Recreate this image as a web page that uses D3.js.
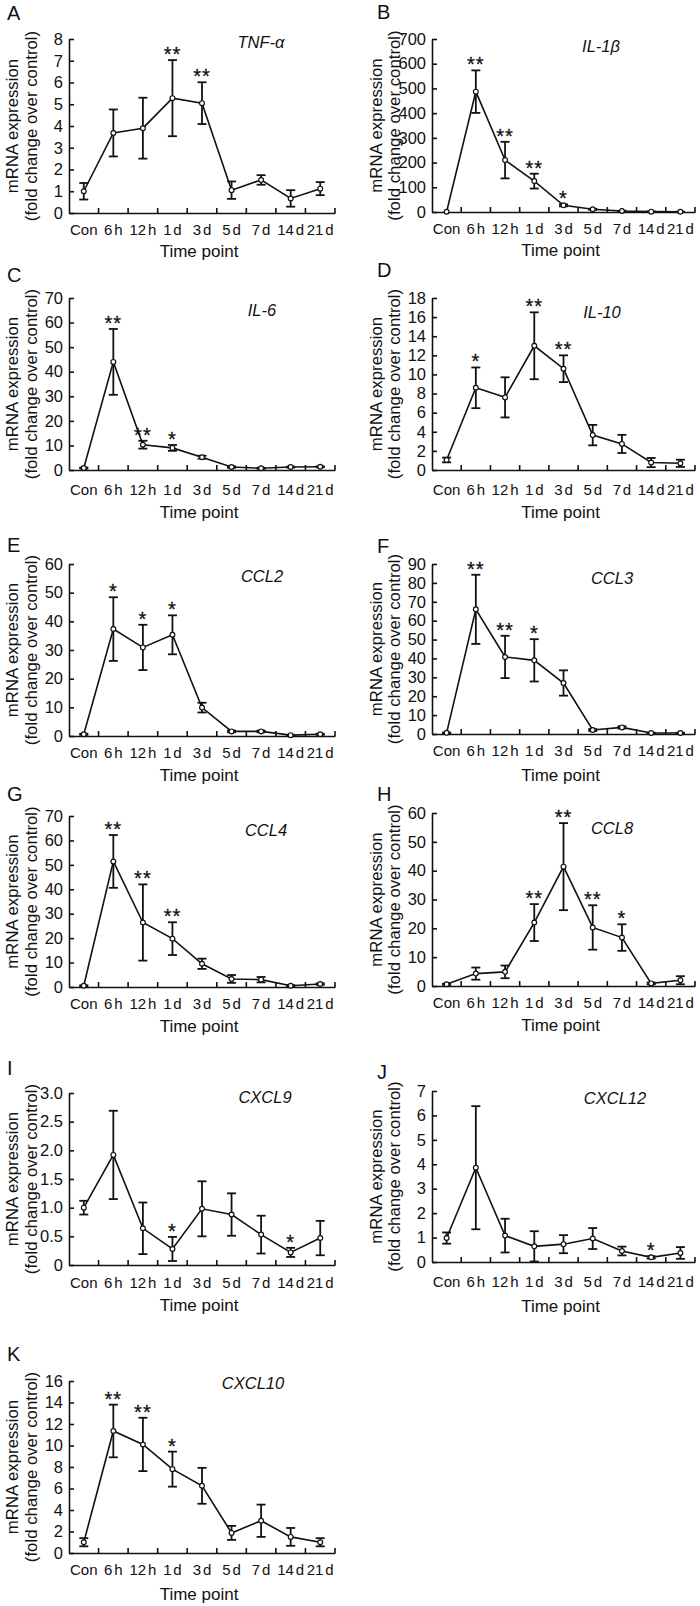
<!DOCTYPE html>
<html>
<head>
<meta charset="utf-8">
<script src="https://cdn.jsdelivr.net/npm/d3@7/dist/d3.min.js"></script>
<style>
  body { margin: 0; background: #fff; }
  svg { display: block; }
  text { font-family: "Liberation Sans", Arial, sans-serif; fill: #111; }
</style>
</head>
<body>
<svg id="fig" width="700" height="1606"></svg>
<script>
// categories
var timePoints = ["Con", "6 h", "12 h", "1 d", "3 d", "5 d", "7 d", "14 d", "21 d"];
var genes = ["TNF-α", "IL-1β", "IL-6", "IL-10", "CCL2", "CCL3", "CCL4", "CCL8", "CXCL9", "CXCL12", "CXCL10"];
var letters = ["A", "B", "C", "D", "E", "F", "G", "H", "I", "J", "K"];

// values (mean, error bar, significance)
var tnfMean = [1.0, 3.68, 3.9, 5.28, 5.05, 1.05, 1.52, 0.67, 1.12];
var tnfErr = [0.38, 1.08, 1.4, 1.75, 0.96, 0.4, 0.22, 0.38, 0.3];
var tnfStars = ["", "", "", "**", "**", "", "", "", ""];
var tnfTicks = [0, 1, 2, 3, 4, 5, 6, 7, 8];

var il1bMean = [1, 487, 210, 125, 27, 11, 4, 1.5, 1];
var il1bErr = [0, 86, 74, 30, 4, 2, 1, 0.5, 0.5];
var il1bStars = ["", "**", "**", "**", "*", "", "", "", ""];
var il1bTicks = [0, 100, 200, 300, 400, 500, 600, 700];

var il6Mean = [0.8, 44, 10.3, 9.0, 5.2, 1.2, 0.7, 1.2, 1.3];
var il6Err = [0.2, 13.4, 1.6, 1.2, 0.6, 0.3, 0.2, 0.2, 0.2];
var il6Stars = ["", "**", "**", "*", "", "", "", "", ""];
var il6Ticks = [0, 10, 20, 30, 40, 50, 60, 70];

var il10Mean = [1.05, 8.6, 7.6, 13.0, 10.6, 3.65, 2.73, 0.78, 0.7];
var il10Err = [0.25, 2.13, 2.1, 3.5, 1.4, 1.07, 0.95, 0.48, 0.38];
var il10Stars = ["", "*", "", "**", "**", "", "", "", ""];
var il10Ticks = [0, 2, 4, 6, 8, 10, 12, 14, 16, 18];

var ccl2Mean = [0.6, 37.3, 30.9, 35.3, 9.9, 1.6, 1.6, 0.3, 0.6];
var ccl2Err = [0.2, 11.1, 7.9, 6.8, 1.7, 0.3, 0.3, 0.1, 0.2];
var ccl2Stars = ["", "*", "*", "*", "", "", "", "", ""];
var ccl2Ticks = [0, 10, 20, 30, 40, 50, 60];

var ccl3Mean = [0.6, 66, 40.8, 39, 27, 2.1, 3.5, 0.5, 0.5];
var ccl3Err = [0.2, 18.3, 11.2, 11.2, 6.7, 0.5, 0.6, 0.2, 0.2];
var ccl3Stars = ["", "**", "**", "*", "", "", "", "", ""];
var ccl3Ticks = [0, 10, 20, 30, 40, 50, 60, 70, 80, 90];

var ccl4Mean = [0.5, 51.4, 26.4, 19.8, 9.5, 3.3, 3.0, 0.5, 1.2];
var ccl4Err = [0.2, 10.8, 15.6, 6.7, 2.1, 1.6, 1.1, 0.3, 0.3];
var ccl4Stars = ["", "**", "**", "**", "", "", "", "", ""];
var ccl4Ticks = [0, 10, 20, 30, 40, 50, 60, 70];

var ccl8Mean = [0.6, 4.3, 4.9, 22.0, 41.4, 20.3, 16.8, 0.9, 2.0];
var ccl8Err = [0.2, 2.1, 2.2, 6.4, 15.1, 7.7, 4.6, 0.3, 1.4];
var ccl8Stars = ["", "", "", "**", "**", "**", "*", "", ""];
var ccl8Ticks = [0, 10, 20, 30, 40, 50, 60];

var cxcl9Mean = [1.0, 1.92, 0.64, 0.28, 0.98, 0.88, 0.53, 0.22, 0.47];
var cxcl9Err = [0.12, 0.77, 0.45, 0.21, 0.48, 0.37, 0.33, 0.08, 0.3];
var cxcl9Stars = ["", "", "", "*", "", "", "", "*", ""];
var cxcl9Ticks = [0, 0.5, 1.0, 1.5, 2.0, 2.5, 3.0];

var cxcl12Mean = [0.98, 3.86, 1.08, 0.64, 0.73, 0.96, 0.45, 0.19, 0.37];
var cxcl12Err = [0.23, 2.52, 0.69, 0.62, 0.37, 0.43, 0.18, 0.05, 0.24];
var cxcl12Stars = ["", "", "", "", "", "", "", "*", ""];
var cxcl12Ticks = [0, 1, 2, 3, 4, 5, 6, 7];

var cxcl10Mean = [1.0, 11.35, 10.1, 7.8, 6.25, 1.87, 3.0, 1.5, 1.0];
var cxcl10Err = [0.38, 2.45, 2.48, 1.63, 1.67, 0.65, 1.5, 0.83, 0.38];
var cxcl10Stars = ["", "**", "**", "*", "", "", "", "", ""];
var cxcl10Ticks = [0, 2, 4, 6, 8, 10, 12, 14, 16];

var series = [
  [tnfMean, tnfErr, tnfStars, tnfTicks],
  [il1bMean, il1bErr, il1bStars, il1bTicks],
  [il6Mean, il6Err, il6Stars, il6Ticks],
  [il10Mean, il10Err, il10Stars, il10Ticks],
  [ccl2Mean, ccl2Err, ccl2Stars, ccl2Ticks],
  [ccl3Mean, ccl3Err, ccl3Stars, ccl3Ticks],
  [ccl4Mean, ccl4Err, ccl4Stars, ccl4Ticks],
  [ccl8Mean, ccl8Err, ccl8Stars, ccl8Ticks],
  [cxcl9Mean, cxcl9Err, cxcl9Stars, cxcl9Ticks],
  [cxcl12Mean, cxcl12Err, cxcl12Stars, cxcl12Ticks],
  [cxcl10Mean, cxcl10Err, cxcl10Stars, cxcl10Ticks]
];

// page layout (pixels)
var colX = [[69, 335], [432, 695]];
var titleX = [[12, 31], [376, 394]];
var letterX = [7, 377];
var layout = [
  {col: 0, top: 39,   zero: 213,  letterY: 20,   gx: 261, gy: 42,   labDy: 16, tpDy: 38},
  {col: 1, top: 39,   zero: 212,  letterY: 19,   gx: 601, gy: 46,   labDy: 16, tpDy: 38},
  {col: 0, top: 298,  zero: 470,  letterY: 282,  gx: 262, gy: 310,  labDy: 19, tpDy: 42},
  {col: 1, top: 298,  zero: 470,  letterY: 277,  gx: 602, gy: 312,  labDy: 19, tpDy: 42},
  {col: 0, top: 564,  zero: 736,  letterY: 552,  gx: 262, gy: 576,  labDy: 16, tpDy: 39},
  {col: 1, top: 564,  zero: 734,  letterY: 553,  gx: 612, gy: 578,  labDy: 16, tpDy: 41},
  {col: 0, top: 816,  zero: 987,  letterY: 801,  gx: 266, gy: 830,  labDy: 16, tpDy: 39},
  {col: 1, top: 813,  zero: 986,  letterY: 801,  gx: 612, gy: 828,  labDy: 16, tpDy: 39},
  {col: 0, top: 1093, zero: 1265, letterY: 1075, gx: 265, gy: 1097, labDy: 17, tpDy: 40},
  {col: 1, top: 1091, zero: 1262, letterY: 1079, gx: 615, gy: 1098, labDy: 19, tpDy: 44},
  {col: 0, top: 1381, zero: 1553, letterY: 1361, gx: 253, gy: 1383, labDy: 16, tpDy: 41}
];

var svg = d3.select("#fig");

layout.forEach(function(p, i) {
  var mean = series[i][0], err = series[i][1], stars = series[i][2], ticks = series[i][3];
  var x0 = colX[p.col][0], x1 = colX[p.col][1];
  var g = svg.append("g");

  var x = d3.scaleBand().domain(timePoints).range([x0, x1]);
  var y = d3.scaleLinear().domain([0, d3.max(ticks)]).range([p.zero, p.top]);
  var cx = function(k) { return x(timePoints[k]) + x.bandwidth() / 2; };
  var decimals = ticks.some(function(t) { return t % 1 !== 0; });

  // y axis, ticks inside
  var ya = g.append("g").attr("transform", "translate(" + x0 + ",0)")
    .call(d3.axisLeft(y).tickValues(ticks).tickSizeInner(-5).tickSizeOuter(0).tickPadding(6)
      .tickFormat(function(d) { return d === 0 ? "0" : (decimals ? d.toFixed(1) : d); }));
  ya.attr("font-size", null).attr("font-family", null);
  ya.selectAll("text").attr("font-size", 16.5).attr("fill", "#111");
  ya.selectAll("line, path").attr("stroke", "#111").attr("stroke-width", 1.6);

  // x axis line + boundary ticks pointing up
  var xa = g.append("g").attr("transform", "translate(0," + p.zero + ")")
    .call(d3.axisBottom(x).tickSize(0).tickPadding(0));
  xa.attr("font-size", null).attr("font-family", null);
  xa.select("path").attr("stroke", "#111").attr("stroke-width", 1.6);
  xa.selectAll("text").attr("font-size", 15).attr("fill", "#111")
    .attr("word-spacing", "-2.3px")
    .attr("dy", null).attr("y", p.labDy + 5.5);
  xa.selectAll(".bound").data(timePoints).enter().append("line")
    .attr("x1", function(d) { return x(d) + x.bandwidth(); })
    .attr("x2", function(d) { return x(d) + x.bandwidth(); })
    .attr("y1", 0).attr("y2", -5)
    .attr("stroke", "#111").attr("stroke-width", 1.6);

  // x title
  g.append("text").attr("x", (x0 + x1) / 2 - 3).attr("y", p.zero + p.tpDy + 6)
    .attr("text-anchor", "middle").attr("font-size", 17).text("Time point");

  // y title, two lines
  var cy = (p.top + p.zero) / 2;
  ["mRNA expression", "(fold change over control)"].forEach(function(t, j) {
    g.append("text")
      .attr("transform", "translate(" + (titleX[p.col][j] + 6) + "," + cy + ") rotate(-90)")
      .attr("text-anchor", "middle").attr("font-size", 16.8).text(t);
  });

  // panel letter and gene name
  g.append("text").attr("x", letterX[p.col]).attr("y", p.letterY)
    .attr("font-size", 20).text(letters[i]);
  g.append("text").attr("x", p.gx).attr("y", p.gy + 6)
    .attr("text-anchor", "middle").attr("font-size", 16.5).attr("font-style", "italic")
    .text(genes[i]);

  // error bars
  var idx = d3.range(timePoints.length);
  var eb = g.append("g").attr("stroke", "#111").attr("stroke-width", 1.8).attr("fill", "none");
  idx.forEach(function(k) {
    if (err[k] <= 0) return;
    var hi = y(mean[k] + err[k]), lo = y(Math.max(0, mean[k] - err[k]));
    eb.append("line").attr("x1", cx(k)).attr("x2", cx(k)).attr("y1", hi).attr("y2", lo);
    eb.append("line").attr("x1", cx(k) - 4.5).attr("x2", cx(k) + 4.5).attr("y1", hi).attr("y2", hi);
    eb.append("line").attr("x1", cx(k) - 4.5).attr("x2", cx(k) + 4.5).attr("y1", lo).attr("y2", lo);
  });

  // mean line
  g.append("path").datum(idx)
    .attr("fill", "none").attr("stroke", "#111").attr("stroke-width", 1.6)
    .attr("d", d3.line().x(cx).y(function(k) { return y(mean[k]); }));

  // open circle markers
  g.selectAll(".pt").data(idx).enter().append("circle")
    .attr("cx", cx).attr("cy", function(k) { return y(mean[k]); })
    .attr("r", 2.4).attr("fill", "#fff").attr("stroke", "#111").attr("stroke-width", 1.2);

  // significance stars, sitting just above the upper cap
  g.selectAll(".star").data(idx.filter(function(k) { return stars[k]; })).enter().append("text")
    .attr("x", cx).attr("y", function(k) { return y(mean[k] + err[k]) + 1; })
    .attr("text-anchor", "middle").attr("font-size", 20).attr("letter-spacing", 1)
    .attr("stroke", "#111").attr("stroke-width", 0.3)
    .text(function(k) { return stars[k]; });
});
</script>
</body>
</html>
